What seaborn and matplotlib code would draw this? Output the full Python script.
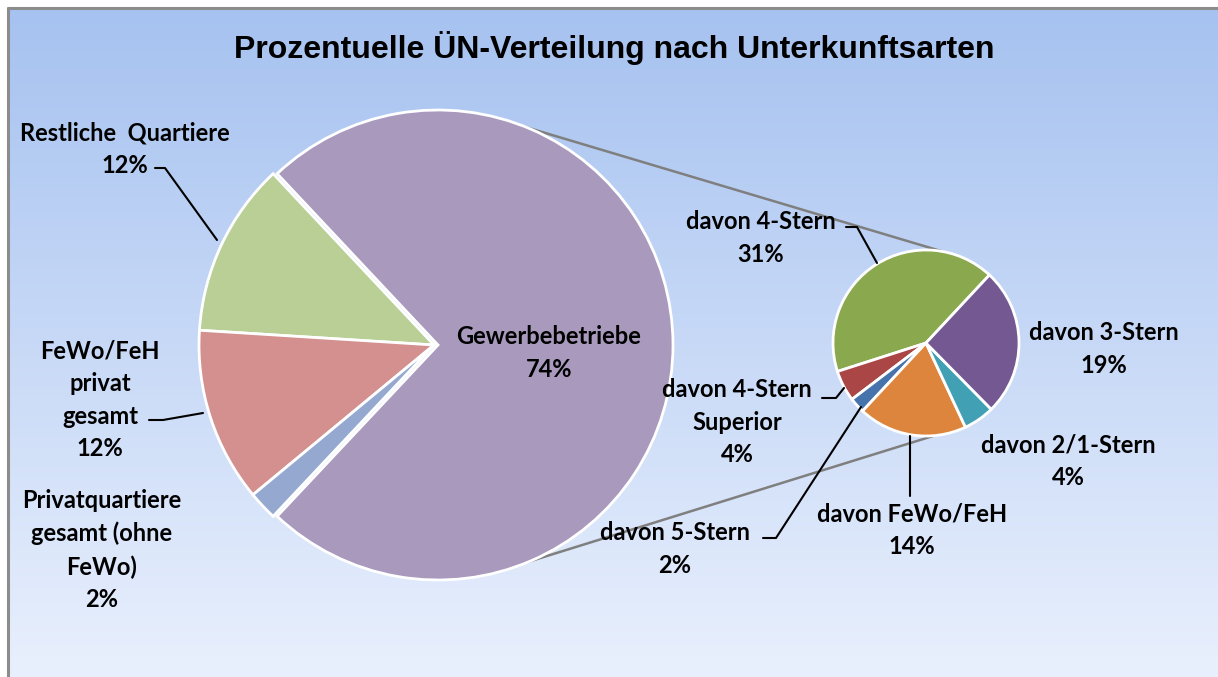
import numpy as np
import matplotlib
matplotlib.use("Agg")
import matplotlib.pyplot as plt
import seaborn as sns
from matplotlib.colors import LinearSegmentedColormap

# data (percent of all overnight stays)
main_labels = ["Gewerbebetriebe", "Restliche  Quartiere", "FeWo/FeH\nprivat\ngesamt",
               "Privatquartiere\ngesamt (ohne\nFeWo)"]
main_values = [74, 12, 12, 2]
main_colors = ["#a899bd", "#b9cf96", "#d3908e", "#95a9d0"]

sub_labels = ["davon 4-Stern", "davon 4-Stern\nSuperior", "davon 5-Stern",
              "davon FeWo/FeH", "davon 2/1-Stern", "davon 3-Stern"]
sub_values = [31, 4, 2, 14, 4, 19]
sub_colors = ["#8aa84d", "#aa4645", "#4673ac", "#dd853d", "#42a0b4", "#735892"]

title = "Prozentuelle ÜN-Verteilung nach Unterkunftsarten"

# layout in pixels (y measured from top)
W, H = 1218, 677
main_c, main_r = (434, 345), 235
sub_c, sub_r = (926, 343), 93
sub_start = 47

main_lab_pos = [(549, 353), (125, 149), (100, 400), (102, 550)]
sub_lab_pos = [(761, 238), (737, 422), (675, 549), (912, 530), (1068, 461), (1104, 349)]
leaders = [
    [(155, 168), (165, 168), (217, 240)],
    [(149, 420), (163, 420), (203, 413)],
    [(846, 227), (857, 227), (877, 263)],
    [(822, 398), (836, 398), (844, 388)],
    [(763, 538), (776, 538), (861, 407)],
    [(910, 436), (910, 496)],
]


def fy(y):
    return H - y


sns.set_theme(style="white")
plt.rcParams["font.family"] = ["Lato", "DejaVu Sans"]
plt.rcParams["text.color"] = "black"

fig = plt.figure(figsize=(W / 100, H / 100), dpi=100)
ax = fig.add_axes([0, 0, 1, 1])

# background gradient of the chart area
cmap = LinearSegmentedColormap.from_list("bg", ["#e9f0fd", "#a6c2f0"])
grad = np.linspace(0, 1, 256).reshape(-1, 1)
ax.imshow(grad, extent=[8, W, 0, fy(8)], origin="lower", cmap=cmap, aspect="auto", zorder=0)
ax.plot([8, 8], [0, fy(8)], color="#8c8c8c", lw=2.2, zorder=1)
ax.plot([8, W], [fy(8), fy(8)], color="#8c8c8c", lw=2.2, zorder=1)

tot = sum(main_values)
main_start = -main_values[0] / tot * 360 / 2
ax.pie(main_values, colors=main_colors, startangle=main_start, counterclock=True,
       center=(main_c[0], fy(main_c[1])), radius=main_r, frame=True,
       explode=[0.017 * main_r, 0, 0, 0],
       wedgeprops=dict(edgecolor="white", linewidth=2))
ax.pie(sub_values, colors=sub_colors, startangle=sub_start, counterclock=True,
       center=(sub_c[0], fy(sub_c[1])), radius=sub_r, frame=True,
       wedgeprops=dict(edgecolor="white", linewidth=2))

# connector lines between the two pies
for a_main, a_sub in [(74, 80), (-73, -85)]:
    x0 = main_c[0] + main_r * np.cos(np.radians(a_main))
    y0 = fy(main_c[1]) + main_r * np.sin(np.radians(a_main))
    x1 = sub_c[0] + sub_r * np.cos(np.radians(a_sub))
    y1 = fy(sub_c[1]) + sub_r * np.sin(np.radians(a_sub))
    ax.plot([x0, x1], [y0, y1], color="#7f7f7f", lw=1.8, zorder=0.5)

for pts in leaders:
    xs = [p[0] for p in pts]
    ys = [fy(p[1]) for p in pts]
    ax.plot(xs, ys, color="black", lw=1.5, zorder=3)

for lab, v, (x, y) in zip(main_labels, main_values, main_lab_pos):
    ax.text(x, fy(y), "%s\n%d%%" % (lab, v), ha="center", va="center", color="black",
            fontsize=17, fontweight="bold", linespacing=1.5, zorder=4)
for lab, v, (x, y) in zip(sub_labels, sub_values, sub_lab_pos):
    ax.text(x, fy(y), "%s\n%d%%" % (lab, v), ha="center", va="center", color="black",
            fontsize=17, fontweight="bold", linespacing=1.5, zorder=4)

ax.text(614, fy(48), title, ha="center", va="center", fontsize=23, color="black",
        fontweight="bold", family="Liberation Sans")

ax.set_xlim(0, W)
ax.set_ylim(0, H)
ax.axis("off")
fig.savefig("out.png", dpi=100, facecolor="white")
